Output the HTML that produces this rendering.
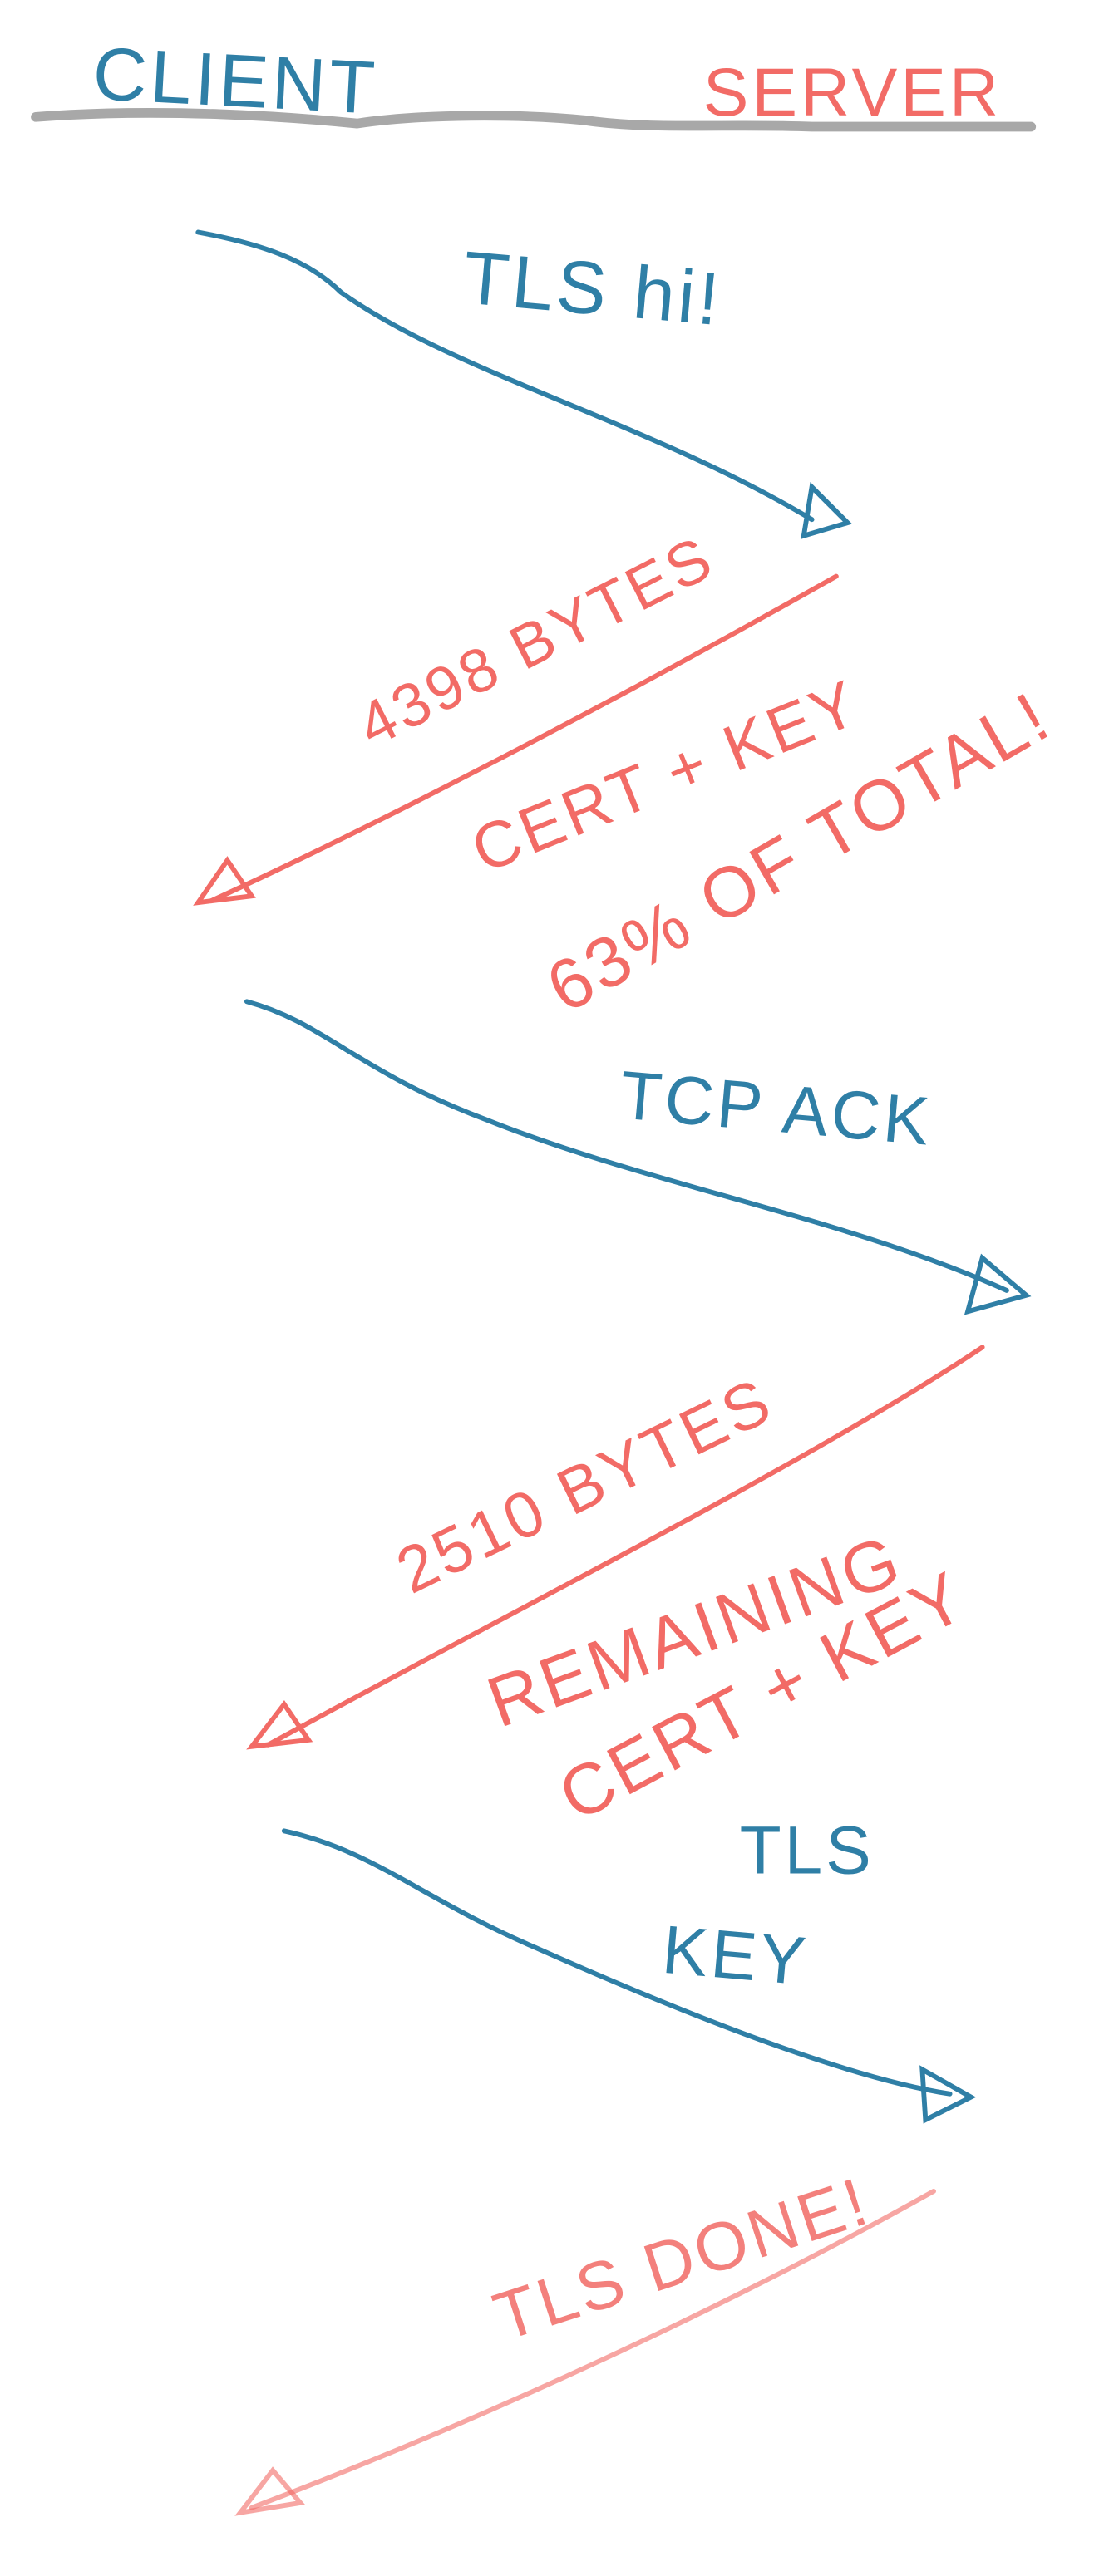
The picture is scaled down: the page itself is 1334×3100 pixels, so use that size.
<!DOCTYPE html>
<html><head><meta charset="utf-8"><style>
html,body{margin:0;padding:0;background:#fff;width:1334px;height:3100px;overflow:hidden}
svg{display:block}
text{font-family:"Liberation Sans",sans-serif;font-weight:normal;letter-spacing:2px;text-anchor:middle;dominant-baseline:central}
.b{fill:#2f7fa6}.r{fill:#f26b66}
.lb{fill:none;stroke:#2f7fa6;stroke-width:3;stroke-linecap:round}
.lr{fill:none;stroke:#f26b66;stroke-width:3;stroke-linecap:round}
</style></head><body>
<svg width="1334" height="3100" viewBox="0 0 683 1587" xmlns="http://www.w3.org/2000/svg">
<path d="M22 72 C100 66 180 72 220 76 C260 70 320 70 360 74 C400 80 450 76 500 78 L635 78" fill="none" stroke="#999" stroke-width="6" stroke-linecap="round" opacity="0.85"/>
<text x="145" y="50" class="b" font-size="46" transform="rotate(3 145 50)">CLIENT</text>
<text x="525" y="57" class="r" font-size="42">SERVER</text>

<path class="lb" d="M122 143 C160 150 190 160 210 180 C280 230 400 260 500 320"/>
<path class="lb" d="M500 300 L522 322 L495 330 Z"/>
<text x="365" y="178" class="b" font-size="46" transform="rotate(5 365 178)">TLS hi!</text>

<path class="lr" d="M515 355 C400 420 250 500 130 555"/>
<path class="lr" d="M140 530 L122 556 L155 552 Z"/>
<text x="330" y="395" class="r" font-size="38" transform="rotate(-27 330 395)">4398 BYTES</text>
<text x="410" y="478" class="r" font-size="40" transform="rotate(-22 410 478)">CERT + KEY</text>
<text x="492" y="525" class="r" font-size="44" transform="rotate(-30 492 525)">63% OF TOTAL!</text>

<path class="lb" d="M152 617 C200 630 220 660 300 690 C400 730 520 750 620 795"/>
<path class="lb" d="M605 775 L632 798 L596 808 Z"/>
<text x="478" y="683" class="b" font-size="42" transform="rotate(5 478 683)">TCP ACK</text>

<path class="lr" d="M605 830 C500 900 320 990 165 1075"/>
<path class="lr" d="M175 1050 L155 1076 L190 1072 Z"/>
<text x="360" y="915" class="r" font-size="40" transform="rotate(-26 360 915)">2510 BYTES</text>
<text x="428" y="1005" class="r" font-size="44" transform="rotate(-20 428 1005)">REMAINING</text>
<text x="470" y="1045" class="r" font-size="44" transform="rotate(-28 470 1045)">CERT + KEY</text>

<path class="lb" d="M175 1128 C230 1140 260 1170 330 1200 C420 1240 520 1280 585 1290"/>
<path class="lb" d="M568 1275 L598 1292 L570 1306 Z"/>
<text x="497" y="1140" class="b" font-size="42">TLS</text>
<text x="453" y="1205" class="b" font-size="42" transform="rotate(5 453 1205)">KEY</text>

<path class="lr" d="M575 1350 C450 1420 300 1490 155 1545" opacity="0.6"/>
<path class="lr" d="M168 1522 L148 1548 L185 1542 Z" opacity="0.6"/>
<text x="420" y="1392" class="r" font-size="42" opacity="0.85" transform="rotate(-18 420 1392)">TLS DONE!</text>
</svg>
</body></html>
